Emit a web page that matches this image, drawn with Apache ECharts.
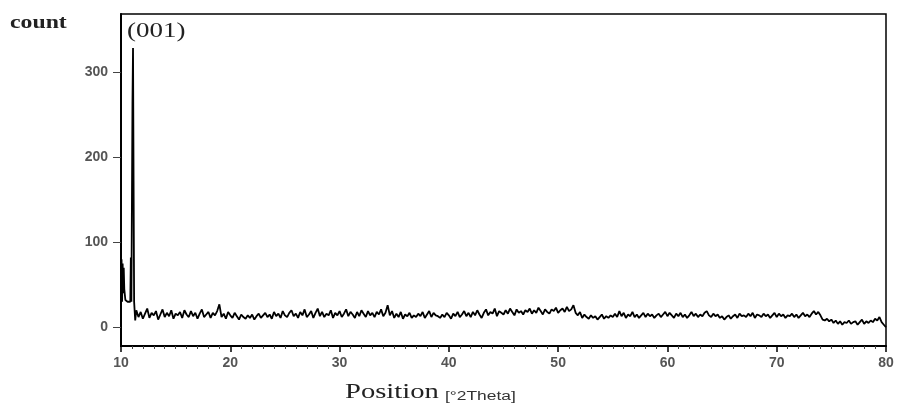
<!DOCTYPE html>
<html><head><meta charset="utf-8">
<script src="https://cdn.jsdelivr.net/npm/echarts@6/dist/echarts.min.js"></script>
<style>html,body{margin:0;padding:0;background:#fff}#c{width:898px;height:406px}</style>
</head><body><div id="c"></div>
<script>
// Low-angle region including the (001) reflection
const peakTheta = [10.0, 10.05, 10.1, 10.15, 10.2, 10.25, 10.3, 10.4, 10.6, 10.85, 10.9, 10.95, 11.05, 11.1, 11.15, 11.2, 11.3];
const peakCount = [35, 80, 30, 75, 40, 70, 45, 32, 30, 30, 82, 30, 265, 328, 173, 30, 8];
// Background scan, sampled every 0.2 °2Theta from 11.4 to 80.0
const bgStart = 11.4;
const bgStep = 0.2;
const bgCount = [
  20, 12, 18, 10, 16, 22, 11, 17, 14,
  19, 9, 15, 21, 12, 17, 13, 20, 10, 16,
  14, 18, 11, 20, 15, 12, 19, 13, 17, 10,
  16, 21, 12, 15, 18, 11, 17, 14, 19, 27,
  12, 16, 10, 18, 14, 11, 17, 13, 9, 15,
  12, 10, 14, 11, 15, 9, 13, 16, 11, 14,
  17, 12, 15, 10, 18, 13, 16, 11, 19, 14,
  12, 17, 20, 13, 16, 11, 18, 14, 21, 12,
  15, 19, 11, 17, 22, 13, 18, 12, 16, 14,
  20, 11, 17, 14, 19, 12, 16, 21, 13, 18,
  15, 11, 18, 13, 20, 16, 12, 19, 14, 17,
  12, 18, 15, 21, 13, 17, 26, 14, 19, 11,
  16, 12, 18, 10, 15, 13, 17, 11, 14, 12,
  16, 13, 18, 11, 15, 19, 12, 17, 14, 13,
  11, 15, 12, 17, 14, 10, 16, 13, 18, 12,
  15, 19, 13, 17, 12, 18, 14, 20, 15, 11,
  17, 21, 14, 18, 16, 22, 13, 19, 17, 15,
  20, 16, 22, 18, 14, 21, 17, 19, 15, 20,
  18, 22, 16, 20, 17, 23, 19, 15, 21, 18,
  16, 21, 19, 23, 17, 20, 22, 18, 24, 19,
  21, 26, 17, 14, 18, 11, 15, 12, 10, 14,
  11, 13, 9, 12, 15, 10, 13, 11, 14, 12,
  16, 12, 19, 13, 17, 11, 15, 13, 18, 12,
  15, 11, 14, 17, 12, 16, 13, 15, 11, 14,
  16, 12, 15, 18, 13, 17, 14, 11, 16, 13,
  17, 12, 15, 11, 14, 18, 13, 16, 12, 15,
  13, 17, 19, 14, 12, 16, 13, 15, 11, 13,
  9, 12, 14, 10, 13, 15, 11, 16, 13, 14,
  12, 16, 13, 17, 11, 15, 14, 12, 16, 13,
  15, 11, 14, 17, 12, 16, 13, 15, 11, 14,
  13, 16, 12, 15, 11, 14, 17, 13, 15, 12,
  16, 19, 15, 18, 14, 9, 8, 10, 7, 9,
  5, 8, 4, 7, 3, 6, 5, 8, 4, 6,
  7, 3, 6, 9, 4, 7, 5, 8, 6, 10,
  8, 12, 6, 3, 0
];
const yTicks = [0, 100, 200, 300];

const data = [];
peakTheta.forEach((t, i) => data.push([t, peakCount[i]]));
bgCount.forEach((c, i) => data.push([+(bgStart + bgStep * i).toFixed(2), c]));

const chart = echarts.init(document.getElementById('c'), null, {renderer: 'canvas'});
const labelColor = '#555';
const serif = '"Liberation Serif", "DejaVu Serif", serif';
chart.setOption({
  animation: false,
  backgroundColor: '#fff',
  grid: {left: 121, right: 12, top: 14, bottom: 60, show: true, borderColor: '#000', borderWidth: 1.5, backgroundColor: 'transparent'},
  xAxis: {
    type: 'value', min: 10, max: 80, interval: 10,
    axisLine: {onZero: false, lineStyle: {color: '#000', width: 2}},
    axisTick: {length: 6, lineStyle: {color: '#000', width: 1.5}},
    minorTick: {show: true, splitNumber: 10, length: 3, lineStyle: {color: '#444', width: 1}},
    splitLine: {show: false},
    axisLabel: {color: labelColor, fontFamily: 'Liberation Sans, Arial', fontSize: 14, fontWeight: 'bold', margin: 10}
  },
  yAxis: {
    type: 'value', min: -22, max: 368,
    axisLine: {show: true, onZero: false, lineStyle: {color: '#000', width: 2}},
    axisTick: {show: true, length: 8, customValues: yTicks, lineStyle: {color: '#444', width: 1}},
    splitLine: {show: false},
    axisLabel: {customValues: yTicks, color: labelColor, fontFamily: 'Liberation Sans, Arial', fontSize: 14, fontWeight: 'bold', margin: 13}
  },
  graphic: [
    {type: 'text', x: 10, y: 14, scaleX: 1.25, style: {text: 'count', font: 'bold 19px ' + serif, fill: '#222'}},
    {type: 'text', x: 127, y: 22, scaleX: 1.35, style: {text: '(001)', font: '20px ' + serif, fill: '#222'}},
    {type: 'text', x: 345, y: 381, scaleX: 1.3, style: {text: 'Position', font: '22px ' + serif, fill: '#222'}},
    {type: 'text', x: 445, y: 391, scaleX: 1.45, style: {text: '[°2Theta]', font: '12px "Liberation Sans", Arial, sans-serif', fill: '#333'}}
  ],
  series: [{
    type: 'line', data: data, showSymbol: false, symbol: 'none',
    lineStyle: {color: '#000', width: 1.8}
  }]
});
</script>
</body></html>
